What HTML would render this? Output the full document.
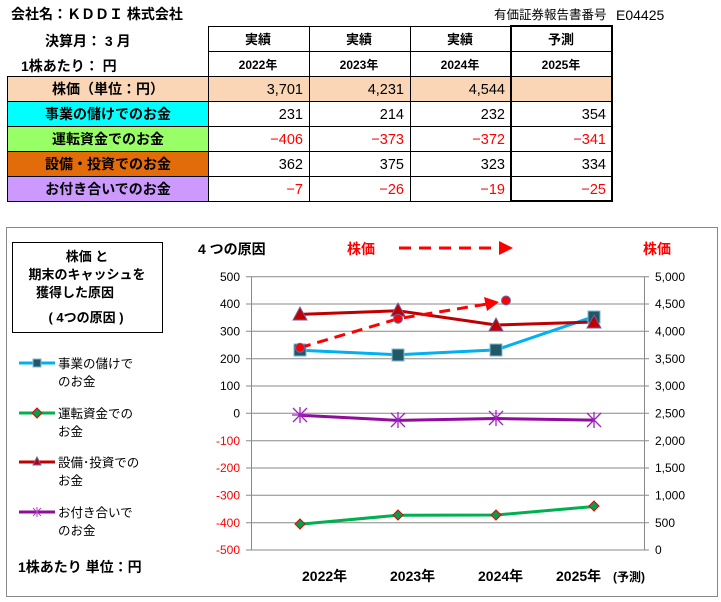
<!DOCTYPE html>
<html><head><meta charset="utf-8"><style>
body{margin:0;background:#fff;width:721px;height:602px;overflow:hidden;font-family:"Liberation Sans","Noto Sans CJK JP",sans-serif}
svg{display:block}
text{font-family:"Liberation Sans","Noto Sans CJK JP",sans-serif}
</style></head><body>
<svg width="721" height="602" viewBox="0 0 721 602" xmlns="http://www.w3.org/2000/svg">
<text x="11" y="19" font-size="14" font-weight="bold">会社名：ＫＤＤＩ 株式会社</text>
<text x="494" y="19" font-size="12.5">有価証券報告書番号</text>
<text x="616" y="20" font-size="14">E04425</text>
<text x="45" y="46" font-size="14" font-weight="bold">決算月： 3 月</text>
<text x="21" y="71" font-size="14" font-weight="bold">1株あたり：  円</text>
<rect x="7" y="76" width="605" height="25" fill="#fad6b6"/>
<rect x="7" y="101" width="201" height="25" fill="#00ffff"/>
<rect x="7" y="126" width="201" height="25" fill="#99ff66"/>
<rect x="7" y="151" width="201" height="25" fill="#e26b0a"/>
<rect x="7" y="176" width="201" height="25" fill="#cc99ff"/>
<g stroke="#000" stroke-width="1">
<line x1="208" y1="26.5" x2="612" y2="26.5"/>
<line x1="208" y1="51.5" x2="612" y2="51.5"/>
<line x1="7" y1="76.5" x2="612" y2="76.5"/>
<line x1="7" y1="101.5" x2="612" y2="101.5"/>
<line x1="7" y1="126.5" x2="612" y2="126.5"/>
<line x1="7" y1="151.5" x2="612" y2="151.5"/>
<line x1="7" y1="176.5" x2="612" y2="176.5"/>
<line x1="7" y1="201.5" x2="612" y2="201.5"/>
<line x1="7.5" y1="76" x2="7.5" y2="202"/>
<line x1="208.5" y1="26" x2="208.5" y2="202"/>
<line x1="309.5" y1="26" x2="309.5" y2="202"/>
<line x1="410.5" y1="26" x2="410.5" y2="202"/>
</g>
<rect x="511" y="26" width="101" height="175" fill="none" stroke="#000" stroke-width="2"/>
<g font-size="13" font-weight="bold" text-anchor="middle">
<text x="258" y="44">実績</text><text x="359" y="44">実績</text><text x="460" y="44">実績</text><text x="561" y="44">予測</text>
</g>
<g font-size="12" font-weight="bold" text-anchor="middle">
<text x="258" y="69">2022年</text><text x="359" y="69">2023年</text><text x="460" y="69">2024年</text><text x="561" y="69">2025年</text>
</g>
<g font-size="14" font-weight="bold" text-anchor="middle">
<text x="108" y="94">株価（単位：円）</text>
<text x="108" y="119">事業の儲けでのお金</text>
<text x="108" y="144">運転資金でのお金</text>
<text x="108" y="169">設備・投資でのお金</text>
<text x="108" y="194">お付き合いでのお金</text>
</g>
<g font-size="14.5" text-anchor="end">
<text x="303" y="94">3,701</text><text x="404" y="94">4,231</text><text x="505" y="94">4,544</text>
<text x="303" y="119">231</text><text x="404" y="119">214</text><text x="505" y="119">232</text><text x="606" y="119">354</text>
<g fill="#ff0000"><text x="303" y="144">−406</text><text x="404" y="144">−373</text><text x="505" y="144">−372</text><text x="606" y="144">−341</text></g>
<text x="303" y="169">362</text><text x="404" y="169">375</text><text x="505" y="169">323</text><text x="606" y="169">334</text>
<g fill="#ff0000"><text x="303" y="194">−7</text><text x="404" y="194">−26</text><text x="505" y="194">−19</text><text x="606" y="194">−25</text></g>
</g>

<rect x="6.5" y="227.5" width="711" height="369" fill="#fff" stroke="#888" stroke-width="1"/>
<rect x="12.5" y="242.5" width="150" height="90" fill="none" stroke="#000"/>
<g font-size="13" font-weight="bold" text-anchor="middle">
<text x="87" y="261">株価 と</text>
<text x="87" y="279">期末のキャッシュを</text>
<text x="75" y="297">獲得した原因</text>
<text x="86" y="322">(  4つの原因  )</text>
</g>
<g font-size="12.5">
<line x1="19" y1="363" x2="55" y2="363" stroke="#00b0f0" stroke-width="3"/>
<rect x="33" y="359" width="8" height="8" fill="#215868" stroke="#7fb8d0"/>
<text x="58" y="368">事業の儲けで</text><text x="58" y="386">のお金</text>
<line x1="19" y1="413" x2="55" y2="413" stroke="#00b050" stroke-width="3"/>
<path d="M37 408 L42 413 L37 418 L32 413Z" fill="#00a050" stroke="#e00" stroke-width="1"/>
<text x="58" y="418">運転資金での</text><text x="58" y="436">お金</text>
<line x1="19" y1="462" x2="55" y2="462" stroke="#c00000" stroke-width="3"/>
<path d="M37 457 L41 465 L33 465Z" fill="#c00000" stroke="#7060a0"/>
<text x="58" y="467">設備･投資での</text><text x="58" y="485">お金</text>
<line x1="19" y1="512" x2="55" y2="512" stroke="#8e0e9a" stroke-width="3"/>
<text x="58" y="517">お付き合いで</text><text x="58" y="535">のお金</text>
</g>
<path d="M33 508 L41 516 M41 508 L33 516 M37 507 L37 517" stroke="#b040c0" stroke-width="1"/>
<text x="18" y="572" font-size="14" font-weight="bold">1株あたり  単位：円</text>

<text x="198" y="254" font-size="14" font-weight="bold">4 つの原因</text>
<text x="347" y="254" font-size="14" font-weight="bold" fill="#ff0000">株価</text>
<line x1="399" y1="248" x2="500" y2="248" stroke="#ff0000" stroke-width="3" stroke-dasharray="12,8"/>
<path d="M499 241 L513 248 L499 255Z" fill="#ff0000"/>
<text x="643" y="254" font-size="14" font-weight="bold" fill="#ff0000">株価</text>

<g stroke="#888" stroke-width="1">
<line x1="246" y1="276.7" x2="649" y2="276.7"/>
<line x1="246" y1="304" x2="649" y2="304"/>
<line x1="246" y1="331.3" x2="649" y2="331.3"/>
<line x1="246" y1="358.7" x2="649" y2="358.7"/>
<line x1="246" y1="386" x2="649" y2="386"/>
<line x1="246" y1="413.3" x2="649" y2="413.3"/>
<line x1="246" y1="440.7" x2="649" y2="440.7"/>
<line x1="246" y1="468" x2="649" y2="468"/>
<line x1="246" y1="495.3" x2="649" y2="495.3"/>
<line x1="246" y1="522.7" x2="649" y2="522.7"/>
<line x1="246" y1="550" x2="649" y2="550"/>
<line x1="251.5" y1="276.7" x2="251.5" y2="550"/>
<line x1="644.5" y1="276.7" x2="644.5" y2="550"/>
</g>
<g font-size="12" text-anchor="end">
<text x="240" y="281">500</text><text x="240" y="308">400</text><text x="240" y="335.5">300</text><text x="240" y="363">200</text><text x="240" y="390">100</text><text x="240" y="417.5">0</text>
<g fill="#ff0000"><text x="240" y="445">-100</text><text x="240" y="472">-200</text><text x="240" y="499.5">-300</text><text x="240" y="527">-400</text><text x="240" y="554">-500</text></g>
</g>
<g font-size="12">
<text x="655" y="281">5,000</text><text x="655" y="308">4,500</text><text x="655" y="335.5">4,000</text><text x="655" y="363">3,500</text><text x="655" y="390">3,000</text><text x="655" y="417.5">2,500</text><text x="655" y="445">2,000</text><text x="655" y="472">1,500</text><text x="655" y="499.5">1,000</text><text x="655" y="527">500</text><text x="655" y="554">0</text>
</g>
<g font-size="14" font-weight="bold">
<text x="302" y="581">2022年</text><text x="390" y="581">2023年</text><text x="478" y="581">2024年</text><text x="556" y="581">2025年</text>
<text x="613" y="581" font-size="12">(予測)</text>
</g>

<polyline points="300,350.2 398,354.8 496,349.9 594,316.6" fill="none" stroke="#00b0f0" stroke-width="3"/>
<polyline points="300,524.3 398,515.2 496,515 594,506.5" fill="none" stroke="#00b050" stroke-width="3"/>
<polyline points="300,314.4 398,310.8 496,325 594,322" fill="none" stroke="#c00000" stroke-width="3"/>
<polyline points="300,415.2 398,420.4 496,418.5 594,420.1" fill="none" stroke="#8e0e9a" stroke-width="3"/>
<g fill="#215868" stroke="#7fb8d0">
<rect x="294" y="344" width="12" height="12"/><rect x="392" y="349" width="12" height="12"/><rect x="490" y="344" width="12" height="12"/><rect x="588" y="311" width="12" height="12"/>
</g>
<g fill="#00a050" stroke="#e00">
<path d="M300 519 L305 524 L300 529 L295 524Z"/><path d="M398 510 L403 515 L398 520 L393 515Z"/><path d="M496 510 L501 515 L496 520 L491 515Z"/><path d="M594 501 L599 506 L594 511 L589 506Z"/>
</g>
<g fill="#c00000" stroke="#7060a0">
<path d="M300 307 L307 320 L293 320Z"/><path d="M398 303 L405 316 L391 316Z"/><path d="M496 318 L503 331 L489 331Z"/><path d="M594 315 L601 328 L587 328Z"/>
</g>
<g stroke="#a020c0" stroke-width="1.3" fill="none">
<path d="M293 408 L307 422 M307 408 L293 422 M300 407 L300 423 M292 415 L308 415"/>
<path d="M391 413 L405 427 M405 413 L391 427 M398 412 L398 428"/>
<path d="M489 411 L503 425 M503 411 L489 425 M496 410 L496 426"/>
<path d="M587 413 L601 427 M601 413 L587 427 M594 412 L594 428"/>
</g>
<polyline points="300,347.7 398,318.7 487,304" fill="none" stroke="#ff0000" stroke-width="3" stroke-dasharray="11,7"/>
<path d="M484 297 L499 302 L487 311Z" fill="#ff0000"/>
<g fill="#ff0000" stroke="#5070c0" stroke-width="1">
<circle cx="300" cy="347.7" r="4.5"/><circle cx="398" cy="318.7" r="4.5"/><circle cx="506" cy="300.5" r="4.5"/>
</g>
</svg>
</body></html>
